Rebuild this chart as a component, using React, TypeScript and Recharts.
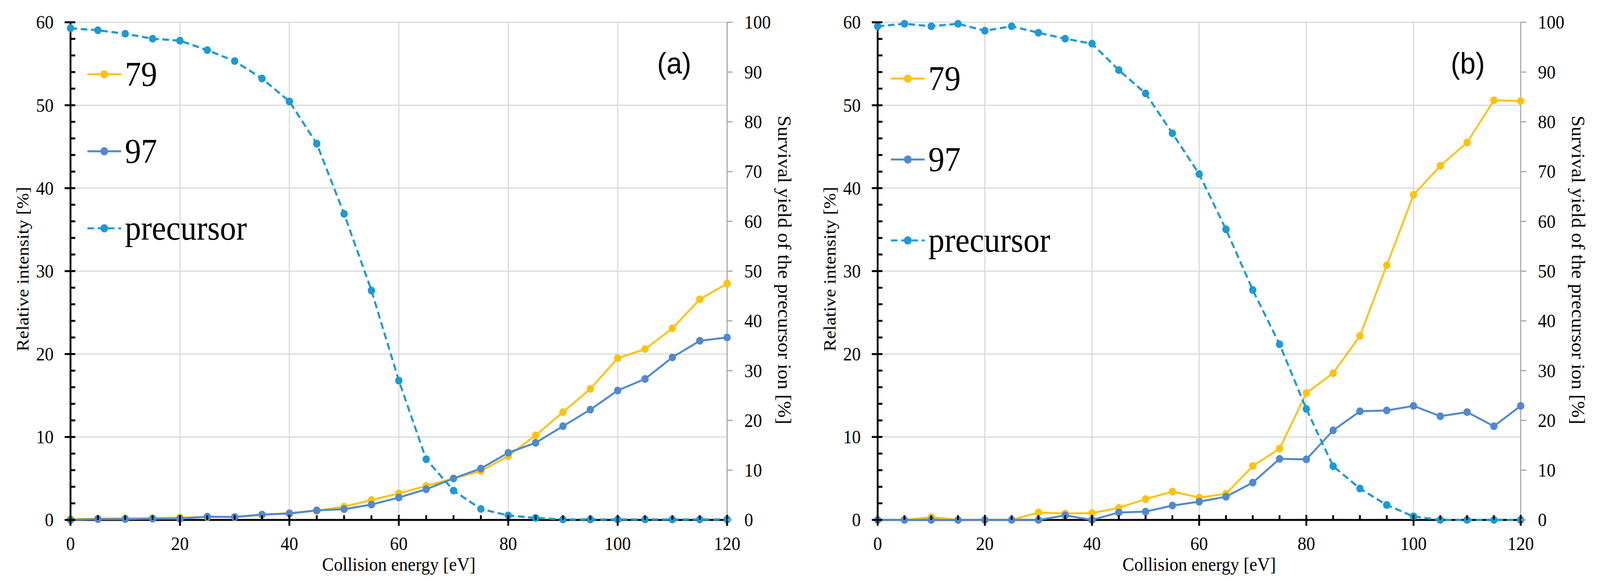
import { LineChart, Line, XAxis, YAxis, CartesianGrid, Legend, Label } from 'recharts';

// collision energy [eV]
const energy = [0, 5, 10, 15, 20, 25, 30, 35, 40, 45, 50, 55, 60, 65, 70, 75, 80, 85, 90, 95, 100, 105, 110, 115, 120];

// panel (a)
const a79 = [0.1, 0.15, 0.2, 0.2, 0.3, 0.35, 0.35, 0.6, 0.85, 1.1, 1.6, 2.4, 3.2, 4.1, 5.0, 5.9, 7.7, 10.2, 13.0, 15.8, 19.5, 20.6, 23.1, 26.6, 28.5];
const a97 = [0, 0.1, 0.1, 0.15, 0.15, 0.4, 0.35, 0.65, 0.77, 1.15, 1.3, 1.85, 2.7, 3.7, 5.0, 6.2, 8.1, 9.3, 11.3, 13.3, 15.6, 17.0, 19.6, 21.6, 22.0];
const aPrecursor = [98.8, 98.4, 97.7, 96.7, 96.3, 94.4, 92.2, 88.7, 84.1, 75.6, 61.5, 46.1, 28.0, 12.2, 5.9, 2.2, 0.9, 0.4, 0.1, 0.1, 0.1, 0.1, 0.1, 0.1, 0.1];

// panel (b)
const b79 = [0, 0, 0.33, 0, 0, 0, 0.9, 0.78, 0.82, 1.46, 2.52, 3.42, 2.7, 3.15, 6.5, 8.6, 15.3, 17.7, 22.2, 30.7, 39.2, 42.7, 45.5, 50.6, 50.5];
const b97 = [0, 0, 0, 0, 0, 0, 0, 0.55, 0, 0.9, 1.0, 1.73, 2.2, 2.8, 4.5, 7.36, 7.3, 10.8, 13.1, 13.2, 13.75, 12.5, 13.0, 11.3, 13.75];
const bPrecursor = [99.2, 99.7, 99.2, 99.7, 98.3, 99.2, 97.9, 96.7, 95.7, 90.4, 85.7, 77.7, 69.5, 58.4, 46.2, 35.3, 22.3, 10.8, 6.3, 3.0, 0.7, 0, 0, 0, 0];

// ticks
const xTicks = [0, 5, 10, 15, 20, 25, 30, 35, 40, 45, 50, 55, 60, 65, 70, 75, 80, 85, 90, 95, 100, 105, 110, 115, 120];
const xGrid = [20, 40, 60, 80, 100];
const leftTicks = [0, 2, 4, 6, 8, 10, 12, 14, 16, 18, 20, 22, 24, 26, 28, 30, 32, 34, 36, 38, 40, 42, 44, 46, 48, 50, 52, 54, 56, 58, 60];
const leftGrid = [10, 20, 30, 40, 50, 60];
const rightTicks = [0, 10, 20, 30, 40, 50, 60, 70, 80, 90, 100];

const seriesNames = ['79', '97', 'precursor'];

const C79 = '#FFC20E';
const C97 = '#5089D0';
const CPRE = '#1B9AD6';
const SERIF = "'Liberation Serif', 'Times New Roman', serif";
const SANS = "'Liberation Sans', Arial, sans-serif";
const W = 4357;
const H = 1499;
const TOP = 57;
const XH = 169;
const TICK_FS = 48;
const TITLE_FS = 48;

const LeftTick = (props: any) => {
  const { x, y, payload } = props;
  const major = payload.value % 10 === 0;
  return (
    <g>
      <line x1={major ? x - 16 : x} x2={x + 13} y1={y} y2={y} stroke="#000" strokeWidth={5} />
      {major && (
        <text x={x - 46} y={y} textAnchor="end" dominantBaseline="central" fontSize={TICK_FS} fontFamily={SERIF} fill="#000">
          {payload.value}
        </text>
      )}
    </g>
  );
};

const RightTick = (props: any) => {
  const { x, y, payload } = props;
  return (
    <g>
      <line x1={x} x2={x + 15} y1={y} y2={y} stroke="#a6a6a6" strokeWidth={3} />
      <text x={x + 47} y={y} textAnchor="start" dominantBaseline="central" fontSize={TICK_FS} fontFamily={SERIF} fill="#000">
        {payload.value}
      </text>
    </g>
  );
};

const BottomTick = (props: any) => {
  const { x, y, payload } = props;
  const major = payload.value % 20 === 0;
  return (
    <g>
      <line x1={x} x2={x} y1={major ? y - 13 : y - 12} y2={major ? y + 15 : y} stroke="#000" strokeWidth={5} />
      {major && (
        <text x={x} y={y + 61} textAnchor="middle" dominantBaseline="central" fontSize={TICK_FS} fontFamily={SERIF} fill="#000">
          {payload.value}
        </text>
      )}
    </g>
  );
};

interface PanelProps {
  tag: string;
  left: number;
  width: number;
  leftW: number;
  rightW: number;
  i79: number[];
  i97: number[];
  pre: number[];
  legendX: number;
  legendRows: number[];
}

function Panel({ tag, left, width, leftW, rightW, i79, i97, pre, legendX, legendRows }: PanelProps) {
  const data = energy.map((e, i) => ({ e, i79: i79[i], i97: i97[i], pre: pre[i] }));
  const plotRight = width - rightW;
  const midY = TOP + (H - XH - TOP) / 2;
  const midX = (leftW + plotRight) / 2;
  const colors = [C79, C97, CPRE];

  const legendContent = () => (
    <svg width={width} height={700} style={{ display: 'block' }}>
      {seriesNames.map((name, i) => (
        <g key={name}>
          <line
            x1={legendX}
            x2={legendX + 92}
            y1={legendRows[i]}
            y2={legendRows[i]}
            stroke={colors[i]}
            strokeWidth={5}
            strokeDasharray={i === 2 ? '18 10' : undefined}
          />
          <circle cx={legendX + 46} cy={legendRows[i]} r={10.5} fill={colors[i]} />
          <text x={legendX + 102} y={legendRows[i] + 29} fontSize={88} fontFamily={SERIF} fill="#000">
            {name}
          </text>
        </g>
      ))}
    </svg>
  );

  return (
    <div style={{ position: 'absolute', left, top: 0, width, height: H }}>
      <LineChart width={width} height={H} data={data} margin={{ top: TOP, right: 0, bottom: 0, left: 0 }}>
        <CartesianGrid stroke="#d9d9d9" strokeWidth={3} horizontalValues={leftGrid} verticalValues={xGrid} />
        <XAxis
          dataKey="e"
          type="number"
          domain={[0, 120]}
          ticks={xTicks}
          interval={0}
          height={XH}
          tickSize={0}
          tickMargin={0}
          tickLine={false}
          axisLine={{ stroke: '#000', strokeWidth: 5 }}
          tick={<BottomTick />}
        >
          <Label
            content={() => (
              <text x={midX} y={1460} textAnchor="middle" fontSize={TITLE_FS} fontFamily={SERIF} fill="#000">
                Collision energy [eV]
              </text>
            )}
          />
        </XAxis>
        <YAxis
          domain={[0, 60]}
          ticks={leftTicks}
          interval={0}
          width={leftW}
          tickSize={0}
          tickMargin={0}
          tickLine={false}
          axisLine={{ stroke: '#000', strokeWidth: 5 }}
          tick={<LeftTick />}
        >
          <Label
            content={() => (
              <text
                x={leftW - 131}
                y={midY - 5}
                transform={`rotate(-90 ${leftW - 131} ${midY - 5})`}
                textAnchor="middle"
                dominantBaseline="central"
                fontSize={TITLE_FS}
                fontFamily={SERIF}
                fill="#000"
              >
                Relative intensity [%]
              </text>
            )}
          />
        </YAxis>
        <YAxis
          yAxisId="r"
          orientation="right"
          domain={[0, 100]}
          ticks={rightTicks}
          interval={0}
          width={rightW}
          tickSize={0}
          tickMargin={0}
          tickLine={false}
          axisLine={{ stroke: '#a6a6a6', strokeWidth: 3 }}
          tick={<RightTick />}
        >
          <Label
            content={() => (
              <g>
                <text
                  x={plotRight + 156}
                  y={midY - 3}
                  transform={`rotate(90 ${plotRight + 156} ${midY - 3})`}
                  textAnchor="middle"
                  dominantBaseline="central"
                  fontSize={51}
                  fontFamily={SERIF}
                  fill="#000"
                >
                  Survival yield of the precursor ion [%]
                </text>
                <text x={plotRight - 144} y={188} textAnchor="middle" fontSize={76} fontFamily={SANS} fill="#000">
                  {tag}
                </text>
              </g>
            )}
          />
        </YAxis>
        <Legend
          layout="horizontal"
          verticalAlign="middle"
          align="center"
          content={legendContent}
          wrapperStyle={{ left: 0, top: 0, width, height: 700, pointerEvents: 'none' }}
        />
        <Line
          type="linear"
          dataKey="i79"
          name="79"
          stroke={C79}
          strokeWidth={5}
          dot={{ r: 10, fill: C79, strokeWidth: 0 }}
          isAnimationActive={false}
          zIndex={600}
        />
        <Line
          type="linear"
          dataKey="i97"
          name="97"
          stroke={C97}
          strokeWidth={5}
          dot={{ r: 10, fill: C97, strokeWidth: 0 }}
          isAnimationActive={false}
          zIndex={600}
        />
        <Line
          type="linear"
          dataKey="pre"
          name="precursor"
          yAxisId="r"
          stroke={CPRE}
          strokeWidth={5.5}
          strokeDasharray="18 10"
          dot={{ r: 10, fill: CPRE, strokeWidth: 0, strokeDasharray: '' }}
          isAnimationActive={false}
          zIndex={600}
        />
      </LineChart>
    </div>
  );
}

export default function App() {
  // the browser window may be narrower than the 4357px figure: squeeze it horizontally to fit
  const k = typeof window !== 'undefined' ? Math.min(1, window.innerWidth / W) : 1;
  return (
    <div
      style={{
        position: 'absolute',
        left: 0,
        top: 0,
        width: W,
        height: H,
        background: '#fff',
        transform: `scale(${k}, 1)`,
        transformOrigin: '0 0',
      }}
    >
      <Panel tag="(a)" left={0} width={2180} leftW={192} rightW={200} i79={a79} i97={a97} pre={aPrecursor} legendX={238} legendRows={[190, 387, 584]} />
      <Panel tag="(b)" left={2180} width={2177} leftW={210} rightW={216} i79={b79} i97={b97} pre={bPrecursor} legendX={246} legendRows={[201, 408, 615]} />
    </div>
  );
}
